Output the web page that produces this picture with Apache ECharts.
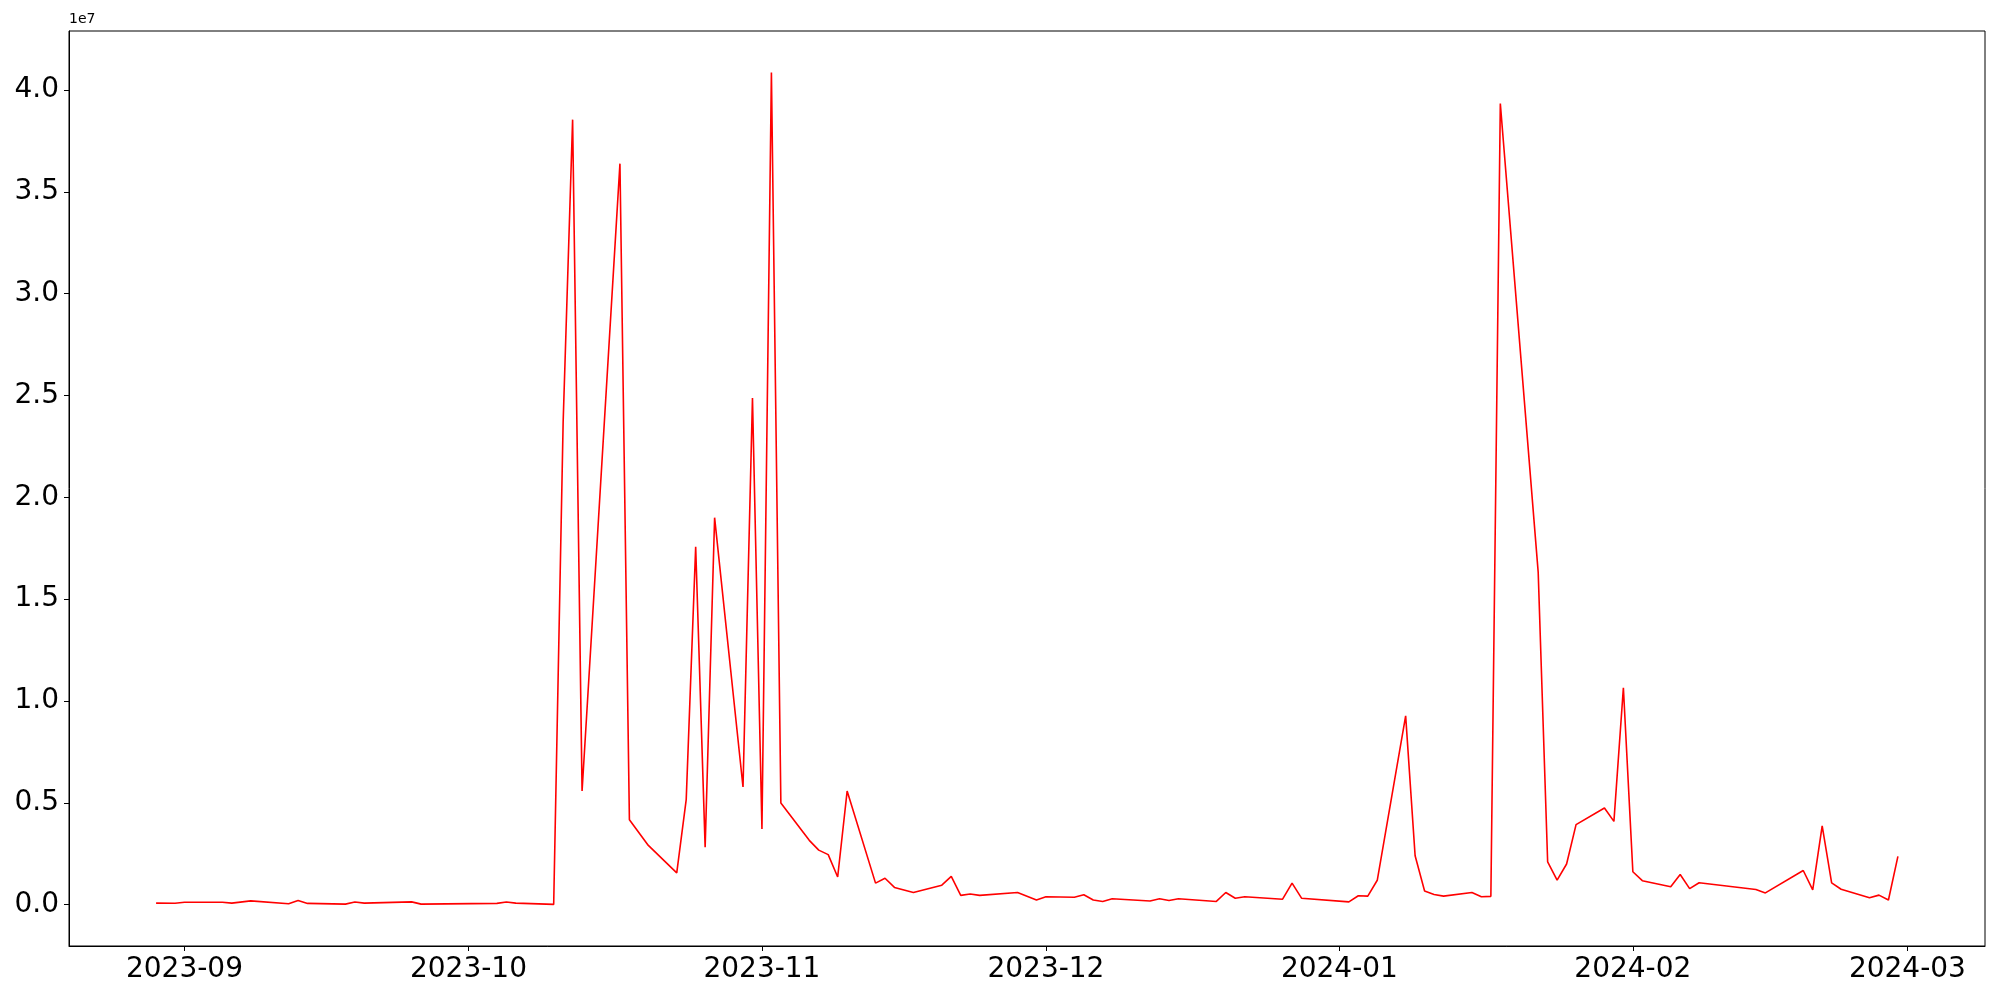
<!DOCTYPE html>
<html>
<head>
<meta charset="utf-8">
<script src="https://cdn.jsdelivr.net/npm/echarts@6/dist/echarts.min.js"></script>
<style>
  html, body { margin: 0; padding: 0; background: #fff; }
  #chart { width: 2000px; height: 1000px; }
</style>
</head>
<body>
<div id="chart"></div>
<script>
// daily values
const dates = [
  '2023-08-29', '2023-08-31', '2023-09-01', '2023-09-05', '2023-09-06', '2023-09-08',
  '2023-09-12', '2023-09-13', '2023-09-14', '2023-09-18', '2023-09-19', '2023-09-20',
  '2023-09-25', '2023-09-26', '2023-10-04', '2023-10-05', '2023-10-06', '2023-10-10',
  '2023-10-11', '2023-10-12', '2023-10-13', '2023-10-17', '2023-10-18', '2023-10-20',
  '2023-10-23', '2023-10-24', '2023-10-25', '2023-10-26', '2023-10-27', '2023-10-30',
  '2023-10-31', '2023-11-01', '2023-11-02', '2023-11-03', '2023-11-06', '2023-11-07',
  '2023-11-08', '2023-11-09', '2023-11-10', '2023-11-13', '2023-11-14', '2023-11-15',
  '2023-11-17', '2023-11-20', '2023-11-21', '2023-11-22', '2023-11-23', '2023-11-24',
  '2023-11-28', '2023-11-30', '2023-12-01', '2023-12-04', '2023-12-05', '2023-12-06',
  '2023-12-07', '2023-12-08', '2023-12-12', '2023-12-13', '2023-12-14', '2023-12-15',
  '2023-12-19', '2023-12-20', '2023-12-21', '2023-12-22', '2023-12-26', '2023-12-27',
  '2023-12-28', '2024-01-02', '2024-01-03', '2024-01-04', '2024-01-05', '2024-01-08',
  '2024-01-09', '2024-01-10', '2024-01-11', '2024-01-12', '2024-01-15', '2024-01-16',
  '2024-01-17', '2024-01-18', '2024-01-22', '2024-01-23', '2024-01-24', '2024-01-25',
  '2024-01-26', '2024-01-29', '2024-01-30', '2024-01-31', '2024-02-01', '2024-02-02',
  '2024-02-05', '2024-02-06', '2024-02-07', '2024-02-08', '2024-02-14', '2024-02-15',
  '2024-02-19', '2024-02-20', '2024-02-21', '2024-02-22', '2024-02-23', '2024-02-26',
  '2024-02-27', '2024-02-28', '2024-02-29'
]
const values = [
  80000, 70000, 120000, 120000, 80000, 190000,
  50000, 210000, 65000, 30000, 130000, 80000,
  140000, 30000, 65000, 130000, 80000, 15000,
  23700000, 38540000, 5580000, 36380000, 4170000, 2910000,
  1560000, 5160000, 17570000, 2820000, 19000000, 5780000,
  24870000, 3720000, 40850000, 4990000, 3160000, 2680000,
  2460000, 1360000, 5580000, 1060000, 1300000, 850000,
  600000, 960000, 1390000, 460000, 530000, 460000,
  600000, 230000, 390000, 370000, 490000, 230000,
  160000, 290000, 180000, 290000, 210000, 290000,
  160000, 600000, 320000, 390000, 270000, 1060000,
  320000, 140000, 440000, 420000, 1200000, 9270000,
  2400000, 670000, 500000, 420000, 600000, 390000,
  410000, 39330000, 16330000, 2100000, 1210000, 2000000,
  3930000, 4750000, 4090000, 10650000, 1620000, 1180000,
  880000, 1480000, 790000, 1080000, 750000, 580000,
  1680000, 730000, 3870000, 1070000, 760000, 340000,
  470000, 230000, 2370000
]
const xTicks = ['2023-09', '2023-10', '2023-11', '2023-12', '2024-01', '2024-02', '2024-03']
const yTicks = [0, 5000000, 10000000, 15000000, 20000000, 25000000, 30000000, 35000000, 40000000]

function ts(s) {
  const p = s.split('-').map(Number)
  return Date.UTC(p[0], p[1] - 1, p[2] || 1)
}

const seriesData = dates.map((d, i) => [ts(d), values[i]])
const xTickVals = xTicks.map(t => ts(t))

// matplotlib style 5% margins
const t0 = seriesData[0][0], t1 = seriesData[seriesData.length - 1][0]
const xPad = (t1 - t0) * 0.05
const vMin = Math.min(...values), vMax = Math.max(...values)
const yPad = (vMax - vMin) * 0.05

const chart = echarts.init(document.getElementById('chart'))
const font = 'DejaVu Sans'
chart.setOption({
  animation: false,
  backgroundColor: '#fff',
  title: {
    text: '1e7',
    left: 69,
    top: 12,
    padding: 0,
    textStyle: { fontFamily: font, fontSize: 14, fontWeight: 'normal', color: '#000' }
  },
  grid: {
    left: 69,
    right: 15,
    top: 31,
    bottom: 54,
    containLabel: false,
    outerBoundsMode: 'none',
    show: true,
    borderColor: '#000',
    borderWidth: 1
  },
  xAxis: {
    type: 'value',
    min: t0 - xPad,
    max: t1 + xPad,
    splitLine: { show: false },
    axisLine: { onZero: false, lineStyle: { color: '#000', width: 1 } },
    axisTick: { show: true, length: 5, lineStyle: { color: '#000' }, customValues: xTickVals },
    axisLabel: {
      customValues: xTickVals,
      fontFamily: font,
      fontSize: 28,
      color: '#000',
      margin: 10,
      formatter: v => {
        const d = new Date(v)
        return d.getUTCFullYear() + '-' + String(d.getUTCMonth() + 1).padStart(2, '0')
      }
    }
  },
  yAxis: {
    type: 'value',
    min: vMin - yPad,
    max: vMax + yPad,
    splitLine: { show: false },
    axisLine: { show: true, onZero: false, lineStyle: { color: '#000', width: 1 } },
    axisTick: { show: true, length: 5, lineStyle: { color: '#000' }, customValues: yTicks },
    axisLabel: {
      customValues: yTicks,
      fontFamily: font,
      fontSize: 28,
      color: '#000',
      margin: 10,
      formatter: v => (v / 1e7).toFixed(1)
    }
  },
  series: [
    {
      type: 'line',
      data: seriesData,
      showSymbol: false,
      lineStyle: { color: '#ff0000', width: 1.6 },
      itemStyle: { color: '#ff0000' }
    }
  ]
})
</script>
</body>
</html>
